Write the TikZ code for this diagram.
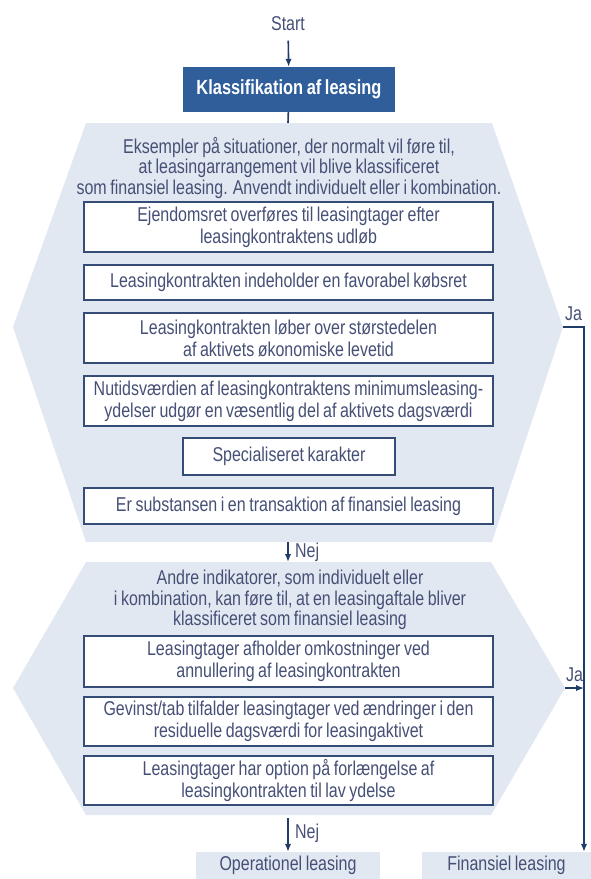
\documentclass[tikz,border=0pt]{standalone}
\usepackage{fontspec}
\setmainfont{Liberation Sans}[FakeStretch=0.8, WordSpace=0.8]
\usetikzlibrary{arrows.meta}

\definecolor{navy}{RGB}{32,60,105}
\definecolor{titleblue}{RGB}{47,94,155}
\definecolor{hexgrey}{RGB}{226,232,241}
\definecolor{slate}{RGB}{70,80,118}
\definecolor{boxline}{RGB}{52,76,118}

\begin{document}
\begin{tikzpicture}[x=1pt,y=-1pt]
\tikzset{
  every node/.style = {font=\fontsize{20}{22}\selectfont, text=slate},
  KritBox/.style = {draw=boxline, line width=1.3pt, fill=white,
                    minimum width=409pt, align=center, inner sep=0pt},
  Udfald/.style  = {fill=hexgrey, inner sep=0pt, minimum height=27pt},
  Pil/.style     = {draw=navy, line width=1.6pt, -{Latex[length=8pt,width=6.5pt]}},
}
\useasboundingbox (0,0) rectangle (591,879);

  % the two grey panels
  \fill[hexgrey] (86,123) -- (492,123) -- (563,327) -- (492,542)
                 -- (86,542) -- (13,327) -- cycle;
  \coordinate (hexA-n) at (288,123);
  \coordinate (hexA-s) at (288,542);
  \coordinate (hexA-e) at (563,327);

  \fill[hexgrey] (86,562) -- (491,562) -- (565,688) -- (491,815)
                 -- (86,815) -- (13,688) -- cycle;
  \coordinate (hexB-n) at (288,562);
  \coordinate (hexB-s) at (288,815);
  \coordinate (hexB-e) at (565,688);

  \node (start) at (288,24) {Start};
  \node[fill=titleblue, minimum width=212pt, minimum height=45pt, inner sep=0pt,
        text=white, font=\fontsize{20.5}{22}\selectfont\bfseries]
        (klass) at (289,89.5) {Klassifikation af leasing};

  \node[align=center, font=\fontsize{20}{20.5}\selectfont] (introA) at (289,168)
    {Eksempler på situationer, der normalt vil føre til,\\
     at leasingarrangement vil blive klassificeret\\
     som finansiel leasing. Anvendt individuelt eller i kombination.};

  \node[KritBox, minimum height=50pt] (krit1) at (288.5,227)
    {Ejendomsret overføres til leasingtager efter\\ leasingkontraktens udløb};
  \node[KritBox, minimum height=35pt] (krit2) at (288.5,282.5)
    {Leasingkontrakten indeholder en favorabel købsret};
  \node[KritBox, minimum height=50pt] (krit3) at (288.5,338)
    {Leasingkontrakten løber over størstedelen\\ af aktivets økonomiske levetid};
  \node[KritBox, minimum height=50pt] (krit4) at (288.5,401)
    {Nutidsværdien af leasingkontraktens minimumsleasing-\\
     ydelser udgør en væsentlig del af aktivets dagsværdi};
  \node[KritBox, minimum height=37pt, minimum width=212pt]
    (krit5) at (289,456.5) {Specialiseret karakter};
  \node[KritBox, minimum height=36pt] (krit6) at (288.5,506)
    {Er substansen i en transaktion af finansiel leasing};

  \node[align=center, font=\fontsize{20}{20.5}\selectfont] (introB) at (290,600)
    {Andre indikatorer, som individuelt eller\\
     i kombination, kan føre til, at en leasingaftale bliver\\
     klassificeret som finansiel leasing};

  \node[KritBox, minimum height=51pt] (ind1) at (288.5,661.5)
    {Leasingtager afholder omkostninger ved\\ annullering af leasingkontrakten};
  \node[KritBox, minimum height=49pt] (ind2) at (288.5,721.5)
    {Gevinst/tab tilfalder leasingtager ved ændringer i den\\
     residuelle dagsværdi for leasingaktivet};
  \node[KritBox, minimum height=49pt] (ind3) at (288.5,780.5)
    {Leasingtager har option på forlængelse af\\ leasingkontrakten til lav ydelse};

  \node[Udfald, minimum width=184pt] (operat) at (288,865.5) {Operationel leasing};
  \node[Udfald, minimum width=169pt] (finans) at (506.5,865.5) {Finansiel leasing};

  % connectors
  \draw[Pil, shorten <=6pt] (start) -- (klass);
  \draw[draw=navy, line width=1.6pt] (klass) -- (hexA-n);
  \draw[Pil] (hexA-s) -- node[right=3pt] {Nej} (hexB-n);
  \draw[Pil, shorten <=3pt] (hexB-s) -- node[right=3pt] {Nej} (operat);

  \coordinate (jaknæk) at (584,327);
  \draw[Pil] (hexA-e) -- node[above=2pt] {Ja} (jaknæk) -- (jaknæk |- finans.north);
  \draw[Pil] (hexB-e) -- node[above=2pt] {Ja} (hexB-e -| jaknæk);

\end{tikzpicture}
\end{document}
